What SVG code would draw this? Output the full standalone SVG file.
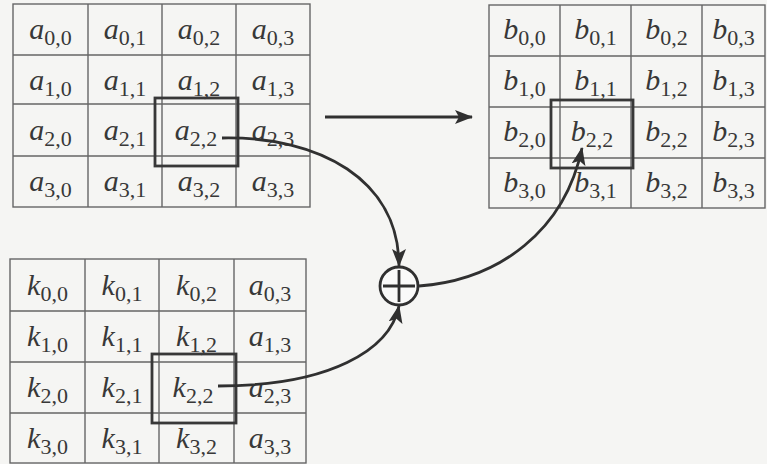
<svg xmlns="http://www.w3.org/2000/svg" width="767" height="464" viewBox="0 0 767 464">
<style>
.grid{fill:none;stroke:#666;stroke-width:1.4}
.hl{fill:none;stroke:#383838;stroke-width:2.8}
.c{font-family:"Liberation Serif","Times New Roman",serif;font-size:30px;fill:#383838;text-anchor:middle}
.v{font-style:italic}
.s{font-size:22px}
.conn{fill:none;stroke:#303030;stroke-width:2.8}
</style>
<defs>
<marker id="ah" viewBox="0 0 18 14" refX="17" refY="7" markerWidth="18" markerHeight="14" markerUnits="userSpaceOnUse" orient="auto">
<path d="M0,0 L18,7 L0,14 L4,7 Z" fill="#303030"/>
</marker>
</defs>
<rect width="767" height="464" fill="#f5f5f3"/>

<g id="stateA">
<rect x="13" y="4" width="297" height="203" fill="#fafaf9" class="grid"/>
<path class="grid" d="M88,4V207M162,4V207M236,4V207M13,55H310M13,104H310M13,156H310"/>
<text class="c" x="50.5" y="39"><tspan class="v">a</tspan><tspan class="s" dy="6">0,0</tspan></text>
<text class="c" x="125" y="39"><tspan class="v">a</tspan><tspan class="s" dy="6">0,1</tspan></text>
<text class="c" x="199" y="39"><tspan class="v">a</tspan><tspan class="s" dy="6">0,2</tspan></text>
<text class="c" x="273" y="39"><tspan class="v">a</tspan><tspan class="s" dy="6">0,3</tspan></text>
<text class="c" x="50.5" y="90"><tspan class="v">a</tspan><tspan class="s" dy="6">1,0</tspan></text>
<text class="c" x="125" y="90"><tspan class="v">a</tspan><tspan class="s" dy="6">1,1</tspan></text>
<text class="c" x="199" y="90"><tspan class="v">a</tspan><tspan class="s" dy="6">1,2</tspan></text>
<text class="c" x="273" y="90"><tspan class="v">a</tspan><tspan class="s" dy="6">1,3</tspan></text>
<text class="c" x="50.5" y="140"><tspan class="v">a</tspan><tspan class="s" dy="6">2,0</tspan></text>
<text class="c" x="125" y="140"><tspan class="v">a</tspan><tspan class="s" dy="6">2,1</tspan></text>
<text class="c" x="196" y="140"><tspan class="v">a</tspan><tspan class="s" dy="6">2,2</tspan></text>
<text class="c" x="273" y="140"><tspan class="v">a</tspan><tspan class="s" dy="6">2,3</tspan></text>
<text class="c" x="50.5" y="191"><tspan class="v">a</tspan><tspan class="s" dy="6">3,0</tspan></text>
<text class="c" x="125" y="191"><tspan class="v">a</tspan><tspan class="s" dy="6">3,1</tspan></text>
<text class="c" x="199" y="191"><tspan class="v">a</tspan><tspan class="s" dy="6">3,2</tspan></text>
<text class="c" x="273" y="191"><tspan class="v">a</tspan><tspan class="s" dy="6">3,3</tspan></text>
</g>
<g id="selA"><rect class="hl" x="155" y="98" width="83" height="68"/></g>

<g id="stateB">
<rect x="489" y="5" width="276" height="203" fill="#fafaf9" class="grid"/>
<path class="grid" d="M560,5V208M631,5V208M702,5V208M489,56H765M489,107H765M489,158H765"/>
<text class="c" x="524.5" y="39"><tspan class="v">b</tspan><tspan class="s" dy="6">0,0</tspan></text>
<text class="c" x="595.5" y="39"><tspan class="v">b</tspan><tspan class="s" dy="6">0,1</tspan></text>
<text class="c" x="666.5" y="39"><tspan class="v">b</tspan><tspan class="s" dy="6">0,2</tspan></text>
<text class="c" x="733.5" y="39"><tspan class="v">b</tspan><tspan class="s" dy="6">0,3</tspan></text>
<text class="c" x="524.5" y="90"><tspan class="v">b</tspan><tspan class="s" dy="6">1,0</tspan></text>
<text class="c" x="595.5" y="90"><tspan class="v">b</tspan><tspan class="s" dy="6">1,1</tspan></text>
<text class="c" x="666.5" y="90"><tspan class="v">b</tspan><tspan class="s" dy="6">1,2</tspan></text>
<text class="c" x="733.5" y="90"><tspan class="v">b</tspan><tspan class="s" dy="6">1,3</tspan></text>
<text class="c" x="524.5" y="141"><tspan class="v">b</tspan><tspan class="s" dy="6">2,0</tspan></text>
<text class="c" x="592" y="141"><tspan class="v">b</tspan><tspan class="s" dy="6">2,2</tspan></text>
<text class="c" x="666.5" y="141"><tspan class="v">b</tspan><tspan class="s" dy="6">2,2</tspan></text>
<text class="c" x="733.5" y="141"><tspan class="v">b</tspan><tspan class="s" dy="6">2,3</tspan></text>
<text class="c" x="524.5" y="192"><tspan class="v">b</tspan><tspan class="s" dy="6">3,0</tspan></text>
<text class="c" x="595.5" y="192"><tspan class="v">b</tspan><tspan class="s" dy="6">3,1</tspan></text>
<text class="c" x="666.5" y="192"><tspan class="v">b</tspan><tspan class="s" dy="6">3,2</tspan></text>
<text class="c" x="733.5" y="192"><tspan class="v">b</tspan><tspan class="s" dy="6">3,3</tspan></text>
</g>
<g id="selB"><rect class="hl" x="551" y="100" width="82" height="68"/></g>

<g id="keyK">
<rect x="10" y="259" width="296" height="204" fill="#fafaf9" class="grid"/>
<path class="grid" d="M85,259V463M159,259V463M234,259V463M10,311H306M10,362H306M10,413H306"/>
<text class="c" x="47.5" y="295"><tspan class="v">k</tspan><tspan class="s" dy="6">0,0</tspan></text>
<text class="c" x="122" y="295"><tspan class="v">k</tspan><tspan class="s" dy="6">0,1</tspan></text>
<text class="c" x="196.5" y="295"><tspan class="v">k</tspan><tspan class="s" dy="6">0,2</tspan></text>
<text class="c" x="270" y="295"><tspan class="v">a</tspan><tspan class="s" dy="6">0,3</tspan></text>
<text class="c" x="47.5" y="346"><tspan class="v">k</tspan><tspan class="s" dy="6">1,0</tspan></text>
<text class="c" x="122" y="346"><tspan class="v">k</tspan><tspan class="s" dy="6">1,1</tspan></text>
<text class="c" x="196.5" y="346"><tspan class="v">k</tspan><tspan class="s" dy="6">1,2</tspan></text>
<text class="c" x="270" y="346"><tspan class="v">a</tspan><tspan class="s" dy="6">1,3</tspan></text>
<text class="c" x="47.5" y="397"><tspan class="v">k</tspan><tspan class="s" dy="6">2,0</tspan></text>
<text class="c" x="122" y="397"><tspan class="v">k</tspan><tspan class="s" dy="6">2,1</tspan></text>
<text class="c" x="193" y="397"><tspan class="v">k</tspan><tspan class="s" dy="6">2,2</tspan></text>
<text class="c" x="270" y="397"><tspan class="v">a</tspan><tspan class="s" dy="6">2,3</tspan></text>
<text class="c" x="47.5" y="448"><tspan class="v">k</tspan><tspan class="s" dy="6">3,0</tspan></text>
<text class="c" x="122" y="448"><tspan class="v">k</tspan><tspan class="s" dy="6">3,1</tspan></text>
<text class="c" x="196.5" y="448"><tspan class="v">k</tspan><tspan class="s" dy="6">3,2</tspan></text>
<text class="c" x="270" y="448"><tspan class="v">a</tspan><tspan class="s" dy="6">3,3</tspan></text>
</g>
<g id="selK"><rect class="hl" x="152" y="354" width="84" height="69"/></g>

<g id="xor">
<circle cx="399" cy="286" r="19" fill="#fafaf9" stroke="#303030" stroke-width="2.8"/>
<path d="M383,286H415M399,270V302" stroke="#303030" stroke-width="2.8"/>
</g>

<g id="connectors">
<path class="conn" d="M325,117H472" marker-end="url(#ah)"/>
<path class="conn" d="M222,138 C320,136 399,180 399,266" marker-end="url(#ah)"/>
<path class="conn" d="M218,386 C330,386 390,350 399,306" marker-end="url(#ah)"/>
<path class="conn" d="M419,286 C500,280 565,230 582,148" marker-end="url(#ah)"/>
</g>
</svg>
